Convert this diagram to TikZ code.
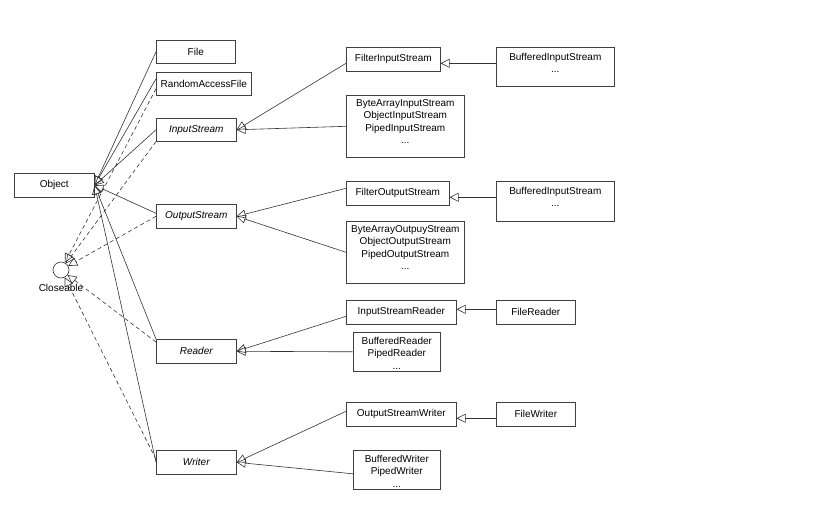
\documentclass[tikz,border=0pt]{standalone}
\usepackage{fontspec}
\setmainfont{Liberation Sans}
\usetikzlibrary{arrows.meta,calc}
\begin{document}
\begin{tikzpicture}[x=1pt,y=-1pt,
  box/.style={draw=black!75, line width=0.6pt, anchor=north west, inner sep=0pt, font=\fontsize{10}{12.5}\selectfont},
  txt/.style={anchor=north, inner sep=0pt, align=center, font=\fontsize{10}{12.5}\selectfont},
  inh/.style={draw=black!80, line width=0.6pt, -{Triangle[open,length=9pt,width=9pt]}},
  impl/.style={inh, dash pattern=on 4pt off 3pt},
]
\useasboundingbox (0,0) rectangle (833,525);
% left column
\node[box, minimum width=80pt, minimum height=24pt] (obj) at (14,173) {Object};
\node[circle, draw=black!80, line width=0.6pt, minimum size=16pt, inner sep=0pt] (cl) at (61,270) {};
\node[txt] (cllab) at (61,284) {Closeable};
% middle column
\node[box, minimum width=79pt, minimum height=23pt] (file) at (156,40) {File};
\node[box, minimum width=95pt, minimum height=23pt] (raf) at (156,72) {RandomAccessFile};
\node[box, minimum width=80pt, minimum height=23pt, font=\fontsize{10}{12.5}\selectfont\itshape] (is) at (156,118) {InputStream};
\node[box, minimum width=80pt, minimum height=24pt, font=\fontsize{10}{12.5}\selectfont\itshape] (os) at (156,204) {OutputStream};
\node[box, minimum width=80pt, minimum height=24pt, font=\fontsize{10}{12.5}\selectfont\itshape] (rd) at (156,339) {Reader};
\node[box, minimum width=80pt, minimum height=24pt, font=\fontsize{10}{12.5}\selectfont\itshape] (wr) at (156,450) {Writer};
% input streams
\node[box, minimum width=94pt, minimum height=24pt] (fis) at (346,47) {FilterInputStream};
\node[box, minimum width=118pt, minimum height=39pt] (bis1) at (496,47) {};
\node[txt] (bis1t) at ($(bis1.north)+(0,6)$) {BufferedInputStream\\...};
\node[box, minimum width=118pt, minimum height=62pt] (bais) at (346,95) {};
\node[txt] (baist) at ($(bais.north)+(0,4)$) {ByteArrayInputStream\\ObjectInputStream\\PipedInputStream\\...};
% output streams
\node[box, minimum width=103pt, minimum height=24pt] (fos) at (346,181) {FilterOutputStream};
\node[box, minimum width=118pt, minimum height=40pt] (bis2) at (496,181) {};
\node[txt] (bis2t) at ($(bis2.north)+(0,6)$) {BufferedInputStream\\...};
\node[box, minimum width=118pt, minimum height=62pt] (baos) at (346,221) {};
\node[txt] (baost) at ($(baos.north)+(0,4)$) {ByteArrayOutpuyStream\\ObjectOutputStream\\PipedOutputStream\\...};
% readers
\node[box, minimum width=110pt, minimum height=24pt] (isr) at (346,300) {InputStreamReader};
\node[box, minimum width=79pt, minimum height=24pt] (fr) at (496,300) {FileReader};
\node[box, minimum width=87pt, minimum height=39pt] (brd) at (353,332) {};
\node[txt] (brdt) at ($(brd.north)+(0,5)$) {BufferedReader\\PipedReader\\...};
% writers
\node[box, minimum width=110pt, minimum height=24pt] (osw) at (346,402) {OutputStreamWriter};
\node[box, minimum width=79pt, minimum height=24pt] (fw) at (496,402) {FileWriter};
\node[box, minimum width=87pt, minimum height=39pt] (bwr) at (353,450) {};
\node[txt] (bwrt) at ($(bwr.north)+(0,5)$) {BufferedWriter\\PipedWriter\\...};
% inheritance to Object
\draw[inh] (file.west) -- (obj.east);
\draw[inh] ($(raf.west)+(0,-5)$) -- (obj.east);
\draw[inh] (is.west) -- (obj.east);
\draw[inh] ($(os.west)+(0,-3)$) -- (obj.east);
\draw[inh] (rd.north west) -- (obj.east);
\draw[inh] (wr.west) -- (obj.east);
% implementation of Closeable
\draw[impl] ($(raf.west)+(0,5)$) -- (cl);
\draw[impl] (is.south west) -- (cl);
\draw[impl] (os.west) -- (cl);
\draw[impl] ($(rd.north west)+(0,3)$) -- (cl);
\draw[impl] ($(wr.west)+(0,-3)$) -- (cl);
% input stream subclasses
\draw[inh] ($(fis.west)+(0,4)$) -- (is.east);
\draw[inh] (bais.west) -- (is.east);
\draw[inh] ($(bis1.west)+(0,-3.5)$) -- ($(fis.east)+(0,4)$);
% output stream subclasses
\draw[inh] ($(fos.west)+(0,-5)$) -- (os.east);
\draw[inh] (baos.west) -- (os.east);
\draw[inh] ($(bis2.west)+(0,-4)$) -- ($(fos.east)+(0,4)$);
% reader subclasses
\draw[inh] ($(isr.west)+(0,4)$) -- (rd.east);
\draw[inh] (brd.west) -- (rd.east);
\draw[inh] ($(fr.west)+(0,-3)$) -- ($(isr.east)+(0,-3)$);
% writer subclasses
\draw[inh] ($(osw.west)+(0,-3)$) -- (wr.east);
\draw[inh] ($(bwr.west)+(0,4)$) -- (wr.east);
\draw[inh] ($(fw.west)+(0,4)$) -- ($(osw.east)+(0,4)$);
\end{tikzpicture}
\end{document}
